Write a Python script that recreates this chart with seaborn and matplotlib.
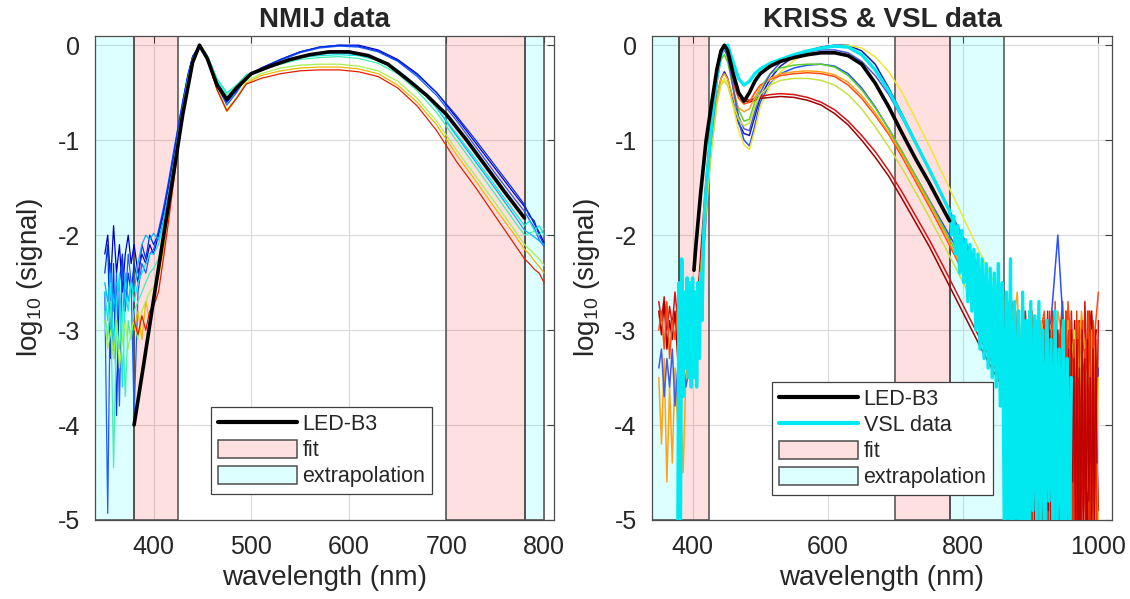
import numpy as np
import matplotlib
matplotlib.use("Agg")
import matplotlib.pyplot as plt
import seaborn as sns
from matplotlib.lines import Line2D
from matplotlib.patches import Patch

nan = np.nan

# ---------------- NMIJ panel ----------------
nmij_wl = [350, 353, 356, 359, 362, 365, 368, 371, 374, 377,
           380, 384, 388, 392, 396, 400,
           405, 410, 415, 420, 425, 430, 435, 440, 447,
           455, 465, 475, 485, 495,
           510, 530, 550, 570, 590, 610, 630, 650, 670, 690, 710, 730, 750, 770,
           780, 785, 790, 795, 800]

nmij_l1 = [-2.2, -2.0, -2.5, -1.9, -2.4, -2.1, -2.6, -2.2, -2.0, -2.3,
           -2.1, -2.4, -2.2, -2.3, -2.1, -2.2,
           -2.0, -1.78, -1.5, -1.2, -0.9, -0.6, -0.33, -0.12, 0.0,
           -0.13, -0.42, -0.6, -0.47, -0.33,
           -0.24, -0.15, -0.07, -0.02, 0.0, 0.0, -0.05, -0.15, -0.3, -0.5, -0.76, -1.03, -1.3, -1.57,
           -1.7, -1.78, -1.88, -1.97, -2.08]
nmij_l2 = [-2.6, -4.93, -2.3, -3.3, -2.4, -3.8, -2.3, -2.7, -2.2, -2.5,
           -3.9, -2.6, -2.3, -2.4, -2.2, -2.15,
           -1.95, -1.72, -1.45, -1.15, -0.86, -0.58, -0.32, -0.12, 0.0,
           -0.13, -0.43, -0.63, -0.5, -0.34,
           -0.25, -0.16, -0.08, -0.03, -0.01, -0.02, -0.07, -0.17, -0.33, -0.53, -0.79, -1.07, -1.35, -1.62,
           -1.75, -1.84, -1.92, -2.05, -2.12]
nmij_l2b = [-2.4, -2.1, -3.3, -2.3, -3.9, -2.5, -2.2, -2.8, -2.4, -2.6,
            -2.3, -2.5, -2.1, -2.25, -2.0, -2.1,
            -1.98, -1.75, -1.48, -1.18, -0.88, -0.59, -0.32, -0.12, 0.0,
            -0.12, -0.41, -0.6, -0.48, -0.34,
            -0.25, -0.15, -0.07, -0.02, 0.0, -0.01, -0.06, -0.16, -0.31, -0.5, -0.74, -1.0, -1.27, -1.54,
            -1.68, -1.8, -1.85, -2.0, -2.1]
nmij_l3 = [-2.5, -2.7, -2.4, -2.8, -2.5, -2.6, -2.9, -2.4, -2.7, -2.5,
           -2.6, -2.3, -2.1, -2.0, -2.05, -1.98,
           -2.05, -1.85, -1.58, -1.28, -0.95, -0.64, -0.36, -0.14, 0.0,
           -0.12, -0.38, -0.55, -0.45, -0.33,
           -0.27, -0.19, -0.13, -0.09, -0.08, -0.1, -0.15, -0.26, -0.43, -0.66, -0.95, -1.23, -1.51, -1.8,
           -1.95, -1.98, -2.02, -2.06, -2.1]
nmij_l3b = [-2.6, -2.9, -2.5, -3.2, -2.7, -2.4, -3.6, -2.6, -2.8, -2.5,
            -2.7, -2.5, -2.4, -2.3, -2.2, -2.2,
            -2.1, -1.9, -1.62, -1.3, -0.97, -0.66, -0.37, -0.14, 0.0,
            -0.11, -0.35, -0.5, -0.42, -0.31,
            -0.25, -0.18, -0.13, -0.11, -0.1, -0.11, -0.16, -0.27, -0.44, -0.66, -0.93, -1.2, -1.48, -1.76,
            -1.9, -1.85, -1.95, -1.9, -2.0]
nmij_l4 = [-2.8, -3.1, -2.7, -4.45, -2.9, -3.2, -2.8, -3.7, -2.9, -3.1,
           -2.8, -2.7, -2.6, -2.5, -2.4, -2.35,
           -2.25, -2.0, -1.7, -1.35, -1.0, -0.68, -0.38, -0.15, 0.0,
           -0.11, -0.36, -0.52, -0.42, -0.32,
           -0.26, -0.2, -0.15, -0.13, -0.12, -0.14, -0.19, -0.3, -0.48, -0.71, -1.0, -1.28, -1.57, -1.86,
           -2.0, -1.98, -1.96, -2.0, -1.93]
nmij_l5 = [-2.9, -3.2, -3.0, -3.3, -2.9, -3.4, -3.1, -2.9, -3.2, -3.0,
           -2.9, -3.1, -2.8, -2.7, -2.6, -2.55,
           -2.4, -2.1, -1.75, -1.38, -1.02, -0.7, -0.4, -0.16, 0.0,
           -0.14, -0.46, -0.68, -0.55, -0.38,
           -0.3, -0.24, -0.21, -0.2, -0.2, -0.22, -0.27, -0.38, -0.56, -0.8, -1.1, -1.38, -1.66, -1.95,
           -2.1, -2.15, -2.2, -2.25, -2.32]
nmij_l6 = [nan, nan, nan, nan, nan, nan, nan, nan, nan, nan,
           -3.0, -2.8, -3.1, -2.7, -2.9, -2.6,
           -2.45, -2.15, -1.8, -1.42, -1.05, -0.72, -0.42, -0.17, 0.0,
           -0.14, -0.47, -0.7, -0.56, -0.4,
           -0.32, -0.27, -0.24, -0.23, -0.23, -0.25, -0.3, -0.42, -0.6, -0.84, -1.15, -1.43, -1.72, -2.0,
           -2.15, -2.2, -2.27, -2.33, -2.4]
nmij_l7 = [nan, nan, nan, nan, nan, nan, nan, nan, nan, nan,
           -2.9, -3.05, -2.85, -3.0, -2.8, -2.75,
           -2.6, -2.25, -1.88, -1.48, -1.1, -0.75, -0.44, -0.18, 0.0,
           -0.15, -0.47, -0.69, -0.56, -0.41,
           -0.35, -0.3, -0.27, -0.26, -0.26, -0.28, -0.33, -0.45, -0.64, -0.9, -1.22, -1.5, -1.8, -2.1,
           -2.25, -2.3, -2.36, -2.4, -2.5]
nmij_lines = [nmij_l1, nmij_l2, nmij_l2b, nmij_l3, nmij_l3b, nmij_l4, nmij_l5, nmij_l6, nmij_l7]
nmij_colors = ["#0000c0", "#1e5aff", "#0030e8", "#00b4ff", "#10e8e0", "#40f0b0", "#a8f050",
               "#f5b400", "#e01e00"]

led_nmij_wl = [380, 390, 400, 410, 420, 430, 440, 447, 455, 465, 475, 485, 500, 520,
               540, 560, 580, 600, 620, 640, 660, 680, 700, 720, 740, 760, 780]
led_nmij = [-4.0, -3.35, -2.68, -2.02, -1.38, -0.72, -0.18, 0.0, -0.14, -0.42, -0.57, -0.45, -0.3, -0.22,
            -0.15, -0.1, -0.07, -0.07, -0.11, -0.2, -0.36, -0.53, -0.73, -0.99, -1.27, -1.55, -1.82]

# ---------------- KRISS & VSL panel ----------------
kriss_wl = [405, 412, 420, 428, 436, 442, 447,
            452, 460, 468, 476, 484, 492, 500,
            515, 530, 550, 570, 590, 610, 630, 650,
            670, 690, 710, 730, 750, 770, 790, 810, 830, 850, 860]
kriss_k1 = [-3.0, -2.3, -1.5, -0.95, -0.55, -0.35, -0.28,
            -0.35, -0.6, -0.82, -0.93, -0.95, -0.75, -0.55,
            -0.35, -0.22, -0.12, -0.06, -0.02, 0.0, 0.0, -0.06,
            -0.2, -0.45, -0.73, -1.02, -1.31, -1.6, -1.9, -2.2, -2.5, -2.8, -2.95]
kriss_k2 = [-3.2, -2.5, -1.6, -0.9, -0.35, -0.08, 0.0,
            -0.12, -0.45, -0.8, -1.0, -1.06, -0.85, -0.6,
            -0.4, -0.3, -0.24, -0.21, -0.2, -0.22, -0.3, -0.45,
            -0.65, -0.88, -1.13, -1.38, -1.63, -1.88, -2.13, -2.4, -2.68, -2.96, -3.1]
kriss_k3 = [-3.1, -2.4, -1.7, -1.1, -0.6, -0.4, -0.35,
            -0.4, -0.65, -0.9, -1.05, -1.1, -0.9, -0.65,
            -0.42, -0.28, -0.16, -0.08, -0.03, -0.01, 0.0, -0.03,
            -0.12, -0.28, -0.5, -0.78, -1.06, -1.36, -1.66, -1.96, -2.26, -2.56, -2.7]
kriss_k4 = [-2.9, -2.2, -1.4, -0.8, -0.3, -0.07, 0.0,
            -0.12, -0.35, -0.5, -0.56, -0.58, -0.56, -0.54,
            -0.52, -0.51, -0.52, -0.55, -0.6, -0.68, -0.8, -0.95,
            -1.12, -1.32, -1.55, -1.8, -2.05, -2.32, -2.6, -2.88, -3.16, -3.44, -3.58]
kriss_k5 = [-3.0, -2.3, -1.45, -0.85, -0.32, -0.08, 0.0,
            -0.13, -0.37, -0.52, -0.58, -0.6, -0.58, -0.56,
            -0.55, -0.54, -0.55, -0.58, -0.63, -0.72, -0.84, -1.0,
            -1.18, -1.38, -1.62, -1.87, -2.12, -2.4, -2.68, -2.96, -3.24, -3.5, -3.62]
kriss_k6 = [-3.0, -2.35, -1.5, -0.85, -0.3, -0.06, 0.0,
            -0.13, -0.4, -0.56, -0.62, -0.6, -0.5, -0.42,
            -0.36, -0.32, -0.3, -0.29, -0.3, -0.33, -0.42, -0.56,
            -0.74, -0.94, -1.18, -1.44, -1.7, -1.97, -2.25, -2.53, -2.82, -3.1, -3.25]
kriss_k7 = [-3.1, -2.4, -1.55, -0.9, -0.38, -0.15, -0.1,
            -0.18, -0.45, -0.68, -0.8, -0.78, -0.6, -0.45,
            -0.3, -0.24, -0.21, -0.2, -0.2, -0.23, -0.32, -0.47,
            -0.66, -0.88, -1.12, -1.38, -1.64, -1.91, -2.18, -2.46, -2.74, -3.02, -3.16]
kriss_k8 = [-3.3, -2.6, -1.7, -1.05, -0.55, -0.35, -0.3,
            -0.36, -0.55, -0.66, -0.7, -0.67, -0.55, -0.45,
            -0.35, -0.3, -0.28, -0.27, -0.28, -0.31, -0.39, -0.53,
            -0.71, -0.92, -1.15, -1.41, -1.67, -1.94, -2.22, -2.5, -2.78, -3.06, -3.2]
kriss_k9 = [-3.4, -2.7, -1.8, -1.0, -0.4, -0.1, -0.05,
            -0.12, -0.45, -0.75, -0.88, -0.9, -0.7, -0.5,
            -0.3, -0.18, -0.1, -0.07, -0.05, -0.05, -0.08, -0.17,
            -0.32, -0.52, -0.77, -1.04, -1.32, -1.6, -1.88, -2.16, -2.44, -2.72, -2.86]
kriss_k10 = [-3.2, -2.5, -1.75, -1.1, -0.62, -0.42, -0.38,
             -0.43, -0.62, -0.78, -0.85, -0.82, -0.65, -0.52,
             -0.42, -0.37, -0.35, -0.35, -0.37, -0.42, -0.52, -0.67,
             -0.86, -1.07, -1.3, -1.55, -1.81, -2.08, -2.36, -2.64, -2.92, -3.2, -3.34]
kriss_lines = [kriss_k1, kriss_k2, kriss_k3, kriss_k4, kriss_k5,
               kriss_k6, kriss_k7, kriss_k8, kriss_k9, kriss_k10]
kriss_colors = ["#1a1aa8", "#2850ff", "#f2e530", "#d41515", "#a00000",
                "#ff4a10", "#5cd02a", "#ffa21a", "#4a5ad8", "#c8e040"]

# noisy short-wavelength starts (attached to k4, k6, k8, k9, k5)
kriss_head_wl = [350, 354, 358, 362, 366, 370, 374, 378, 382, 386, 390, 394, 398]
kriss_head_k4 = [-2.7, -2.9, -2.65, -3.0, -2.75, -2.95, -2.6, -2.9, -3.1, -2.8, -3.0, -2.95, -3.0]
kriss_head_k6 = [-3.0, -2.8, -3.2, -2.7, -3.3, -2.9, -3.1, -2.75, -3.4, -3.0, -3.2, -3.05, -3.0]
kriss_head_k8 = [-3.5, -4.2, -3.3, -4.6, -3.6, -4.4, -3.4, -4.0, -3.7, -4.5, -3.5, -3.3, -3.3]
kriss_head_k9 = [-3.4, -3.2, -3.7, -3.3, -3.6, -3.2, -3.8, -3.4, -3.5, -3.3, -3.6, -3.45, -3.4]
kriss_head_k5 = [-2.8, -3.05, -2.7, -3.2, -2.9, -3.1, -2.8, -3.3, -2.9, -3.1, -2.95, -3.0, -3.0]
kriss_heads = {3: kriss_head_k4, 5: kriss_head_k6, 7: kriss_head_k8, 8: kriss_head_k9, 4: kriss_head_k5}

# noisy long-wavelength ends (attached to k4, k5, k6, k8, k2, k10)
kriss_tail_wl = [865, 870, 875, 880, 885, 890, 895, 900, 905, 910, 915, 920, 925, 930,
                 935, 940, 945, 950, 955, 960, 965, 970, 975, 980, 985, 990, 995, 1000]
kriss_tail_k4 = [-3.7, -2.9, -4.8, -3.0, -5.3, -2.8, -4.2, -3.1, -5.3, -2.9, -3.6, -5.3, -2.8, -4.5,
                 -3.0, -5.3, -2.9, -3.3, -5.2, -2.8, -4.0, -3.1, -5.3, -2.7, -3.9, -2.9, -5.1, -2.9]
kriss_tail_k5 = [-3.8, -4.6, -3.0, -5.3, -3.1, -3.6, -5.3, -2.9, -4.1, -3.2, -5.3, -2.9, -3.4, -5.3,
                 -3.0, -3.8, -2.9, -5.3, -3.1, -4.4, -2.9, -5.3, -3.0, -3.5, -5.3, -2.8, -3.6, -4.9]
kriss_tail_k6 = [-3.4, -3.1, -3.9, -2.8, -3.3, -5.3, -3.0, -2.9, -3.7, -5.3, -3.0, -2.8, -4.6, -3.1,
                 -2.8, -3.5, -3.0, -4.9, -2.7, -3.2, -5.3, -2.9, -3.0, -4.3, -2.8, -5.3, -3.0, -2.6]
kriss_tail_k8 = [-3.3, -2.7, -2.9, -2.6, -3.4, -2.9, -3.8, -3.0, -3.2, -4.0, -2.9, -3.1, -3.6, -3.0,
                 -4.4, -2.8, -3.0, -3.3, -2.9, -3.7, -3.1, -3.5, -2.8, -3.2, -4.7, -3.0, -3.3, -5.3]
kriss_tail_k2 = [-3.2, -4.5, -3.6, -5.3, -3.4, -3.9, -3.2, -5.3, -3.5, -3.1, -4.2, -3.3, -3.0, -2.9,
                 -2.45, -2.0, -2.6, -3.1, -3.4, -5.3, -3.3, -3.6, -3.2, -4.4, -3.5, -3.3, -4.1, -3.4]
kriss_tail_k10 = [-3.4, -5.3, -3.6, -3.2, -4.1, -3.5, -5.3, -3.3, -3.7, -3.1, -5.3, -3.4, -3.0, -3.6,
                  -3.2, -3.9, -5.3, -3.4, -5.3, -3.3, -3.0, -4.2, -3.1, -3.4, -3.6, -3.2, -5.3, -3.5]
kriss_tails = {3: kriss_tail_k4, 4: kriss_tail_k5, 5: kriss_tail_k6, 7: kriss_tail_k8,
               1: kriss_tail_k2, 9: kriss_tail_k10}

# further KRISS near-infrared noise traces
kriss_tail_wl2 = [862, 867, 872, 877, 882, 887, 892, 897, 902, 907, 912, 917, 922, 927,
                  932, 937, 942, 947, 952, 957, 962, 967, 972, 977, 982, 987, 992, 997]
kriss_extra_red = [-3.0, -3.6, -2.7, -4.4, -3.2, -5.3, -2.8, -3.5, -5.3, -3.0, -2.9, -5.3, -3.1, -4.0,
                   -2.8, -5.3, -3.2, -2.7, -5.3, -3.0, -3.3, -5.3, -2.9, -3.8, -5.3, -2.8, -3.1, -5.3]
kriss_extra_dark = [-3.3, -4.2, -3.1, -3.5, -5.3, -3.3, -4.5, -3.0, -3.4, -5.3, -3.2, -3.6, -5.3, -2.9,
                    -4.1, -3.3, -5.3, -3.0, -3.5, -4.8, -3.1, -3.4, -5.3, -3.0, -3.3, -5.3, -3.2, -3.0]
kriss_extra_orange = [-2.7, -3.2, -3.0, -2.8, -3.6, -2.9, -5.3, -3.1, -2.8, -3.4, -4.7, -3.0, -2.9, -3.3,
                      -5.3, -2.9, -3.1, -4.3, -2.8, -3.5, -5.3, -3.0, -3.2, -2.9, -4.6, -3.1, -2.9, -3.4]
kriss_extras = [kriss_extra_red, kriss_extra_dark, kriss_extra_orange]
kriss_extra_colors = ["#e02000", "#b81000", "#f06000"]

kriss_dense_wl = list(range(900, 1000, 2))
kriss_dense_red = [-3.0, -5.3, -2.9, -4.6, -3.2, -5.3, -2.8, -5.3, -3.1, -4.4,
                   -2.9, -5.3, -3.3, -5.3, -2.8, -4.8, -3.0, -5.3, -2.7, -5.3,
                   -3.1, -4.5, -2.9, -5.3, -3.2, -5.3, -2.8, -5.0, -3.0, -5.3,
                   -2.9, -5.3, -3.1, -4.7, -2.8, -5.3, -3.0, -5.3, -2.9, -4.9,
                   -3.2, -5.3, -2.8, -5.3, -3.0, -4.6, -2.9, -5.3, -3.1, -5.3]
kriss_dense_dark = [-3.4, -4.8, -3.1, -5.3, -3.5, -5.3, -3.0, -4.5, -3.3, -5.3,
                    -3.1, -5.3, -3.6, -4.9, -3.0, -5.3, -3.2, -5.3, -3.4, -4.7,
                    -3.0, -5.3, -3.3, -5.3, -3.1, -4.8, -3.5, -5.3, -3.2, -5.3,
                    -3.0, -4.6, -3.3, -5.3, -3.1, -5.3, -3.4, -5.0, -3.0, -5.3,
                    -3.3, -5.3, -3.1, -4.8, -3.5, -5.3, -3.2, -5.3, -3.0, -4.4]

vsl_head_wl = [378, 380, 382, 384, 386, 388, 390, 392, 394, 396,
               398, 400, 402, 404, 406, 408, 410, 412, 414, 416]
vsl_head = [-5.3, -2.5, -5.2, -2.25, -3.7, -2.6, -3.4, -2.45, -3.5, -2.5,
            -3.6, -2.45, -3.5, -2.6, -3.6, -2.5, -3.3, -2.4, -2.9, -2.1]
vsl_wl = [418, 424, 430, 436, 442, 447, 452, 460, 468, 476, 484, 492, 500, 515,
          530, 550, 570, 590, 610, 630, 650, 670, 690, 710, 730, 750, 770, 780]
vsl = [-1.7, -1.15, -0.7, -0.32, -0.1, -0.02, 0.0, -0.18, -0.35, -0.42, -0.38, -0.3, -0.25, -0.19,
       -0.15, -0.1, -0.06, -0.03, -0.01, -0.02, -0.1, -0.26, -0.48, -0.75, -1.03, -1.31, -1.6, -1.75]
vsl_tail_wl = list(range(783, 961, 3))
vsl_tail = [-2.0, -1.8, -2.2, -1.9, -2.4, -1.95, -2.5, -2.05, -2.7, -2.1,
            -2.8, -2.15, -3.0, -2.2, -3.2, -2.25, -3.3, -2.3, -3.4, -2.35,
            -3.5, -2.4, -3.6, -2.3, -3.8, -2.5, -5.2, -2.6, -4.8, -2.25,
            -5.3, -2.7, -4.6, -2.8, -5.3, -2.6, -5.0, -2.9, -5.3, -2.7,
            -4.9, -2.85, -5.3, -2.7, -5.1, -3.0, -5.3, -2.9, -4.8, -3.1,
            -5.3, -2.8, -5.0, -3.2, -5.3, -2.9, -5.2, -3.3, -5.3, -3.5]
vsl_tail2_wl = list(range(862, 961, 2))
vsl_tail2 = [-3.0, -5.3, -2.7, -5.3, -3.2, -5.3, -2.9, -5.3, -3.4, -5.3,
             -2.8, -5.3, -3.1, -5.3, -2.9, -5.3, -3.3, -5.3, -2.8, -5.3,
             -3.0, -5.3, -3.2, -5.3, -2.9, -5.3, -3.1, -5.3, -3.4, -5.3,
             -2.9, -5.3, -3.3, -5.3, -3.0, -5.3, -3.5, -5.3, -3.2, -5.3,
             -3.6, -5.3, -3.0, -5.3, -3.4, -5.3, -3.8, -5.3, -3.9, -5.3]

led_kv_wl = [402, 405, 412, 420, 428, 436, 442, 447, 452, 460, 468, 476, 484, 492, 500,
             515, 530, 550, 570, 590, 610, 630, 650, 670, 690, 710, 730, 750, 770, 780]
led_kv = [-2.37, -2.1, -1.55, -1.0, -0.62, -0.25, -0.06, 0.0, -0.06, -0.3, -0.5, -0.59, -0.5, -0.38, -0.3,
          -0.22, -0.17, -0.13, -0.1, -0.08, -0.08, -0.11, -0.2, -0.4, -0.65, -0.93, -1.2, -1.45, -1.72, -1.85]

# shaded wavelength bands
fit_bands = [(380, 425), (700, 780)]
extrap_nmij = [(340, 380), (780, 800)]
extrap_kv = [(340, 380), (780, 860)]

# ---------------- style ----------------
sns.set_theme(style="white")
plt.rcParams["font.family"] = ["Liberation Sans", "DejaVu Sans"]
plt.rcParams["axes.unicode_minus"] = False
plt.rcParams["mathtext.fontset"] = "custom"
plt.rcParams["mathtext.rm"] = "Liberation Sans"
plt.rcParams["mathtext.it"] = "Liberation Sans:italic"

PINK = (1.0, 0.0, 0.0, 0.12)
CYAN = (0.0, 1.0, 1.0, 0.13)
EDGE = (0.3, 0.3, 0.3, 1.0)
VSL_C = "#00e8f0"


def draw(ax, x, y, color, lw=0.9, z=2):
    sns.lineplot(x=x, y=y, color=color, lw=lw, ax=ax, estimator=None,
                 sort=False, legend=False, zorder=z)


def style_axes(ax, xlim, xticks, title):
    for a, b in fit_bands:
        ax.axvspan(a, b, facecolor=PINK, edgecolor=EDGE, lw=1.1, zorder=1)
    ax.set_xlim(*xlim)
    ax.set_ylim(-5, 0.1)
    ax.set_xticks(xticks)
    ax.set_yticks([-5, -4, -3, -2, -1, 0])
    ax.grid(True, color="#dadada", lw=0.8, zorder=0.5)
    ax.tick_params(direction="in", top=True, right=True, length=5, width=0.8,
                   colors="#404040", labelcolor="#262626", labelsize=18, pad=11)
    for s in ax.spines.values():
        s.set_color("#4d4d4d")
        s.set_linewidth(0.9)
    ax.set_xlabel("wavelength (nm)", fontsize=20, color="#262626", labelpad=4)
    ax.set_ylabel(r"log$_{10}$ (signal)", fontsize=20, color="#262626", labelpad=9)
    ax.set_title(title, fontsize=20, fontweight="bold", pad=6)


fig = plt.figure(figsize=(11.3, 5.99), dpi=100)
ax1 = fig.add_axes([0.0841, 0.1319, 0.406, 0.8085])
ax2 = fig.add_axes([0.577, 0.1319, 0.407, 0.8085])

# NMIJ
for a, b in extrap_nmij:
    ax1.axvspan(a, b, facecolor=CYAN, edgecolor=EDGE, lw=1.1, zorder=1)
style_axes(ax1, (340, 810), [400, 500, 600, 700, 800], "NMIJ data")
for vals, col in zip(nmij_lines, nmij_colors):
    draw(ax1, nmij_wl, vals, col)
draw(ax1, led_nmij_wl, led_nmij, "black", lw=2.6, z=4)

# KRISS & VSL
for a, b in extrap_kv:
    ax2.axvspan(a, b, facecolor=CYAN, edgecolor=EDGE, lw=1.1, zorder=1)
style_axes(ax2, (340, 1020), [400, 600, 800, 1000], "KRISS & VSL data")
for vals, col in zip(kriss_extras, kriss_extra_colors):
    draw(ax2, kriss_tail_wl2, vals, col, lw=1.2)
for i, (vals, col) in enumerate(zip(kriss_lines, kriss_colors)):
    x = list(kriss_wl)
    y = list(vals)
    if i in kriss_heads:
        x = kriss_head_wl + x
        y = kriss_heads[i] + y
    if i in kriss_tails:
        x = x + kriss_tail_wl
        y = y + kriss_tails[i]
    draw(ax2, x, y, col, lw=1.1)
draw(ax2, vsl_tail2_wl, vsl_tail2, VSL_C, lw=2.0, z=2.5)
draw(ax2, kriss_dense_wl, kriss_dense_red, "#e83000", lw=1.0, z=2.7)
draw(ax2, kriss_dense_wl, kriss_dense_dark, "#c00000", lw=1.0, z=2.7)
draw(ax2, vsl_head_wl + vsl_wl + vsl_tail_wl, vsl_head + vsl + vsl_tail, VSL_C, lw=2.4, z=3)
draw(ax2, led_kv_wl, led_kv, "black", lw=2.6, z=4)

# legends
leg_kw = dict(loc="lower left", borderaxespad=0, fontsize=15.5, frameon=True, fancybox=False,
              edgecolor="#404040", framealpha=1, handlelength=3.7, handleheight=0.95,
              labelspacing=0.2, borderpad=0.3, handletextpad=0.25)
h_led = Line2D([], [], color="black", lw=3)
h_fit = Patch(facecolor=PINK, edgecolor=EDGE, lw=1.1)
h_ext = Patch(facecolor=CYAN, edgecolor=EDGE, lw=1.1)
h_vsl = Line2D([], [], color=VSL_C, lw=3)
l1 = ax1.legend([h_led, h_fit, h_ext], ["LED-B3", "fit", "extrapolation"],
                bbox_to_anchor=(0.253, 0.054), **leg_kw)
l2 = ax2.legend([h_led, h_vsl, h_fit, h_ext], ["LED-B3", "VSL data", "fit", "extrapolation"],
                bbox_to_anchor=(0.261, 0.052), **leg_kw)
for lg in (l1, l2):
    lg.get_frame().set_linewidth(0.9)
    lg.set_zorder(10)

fig.savefig("out.png", dpi=100)
